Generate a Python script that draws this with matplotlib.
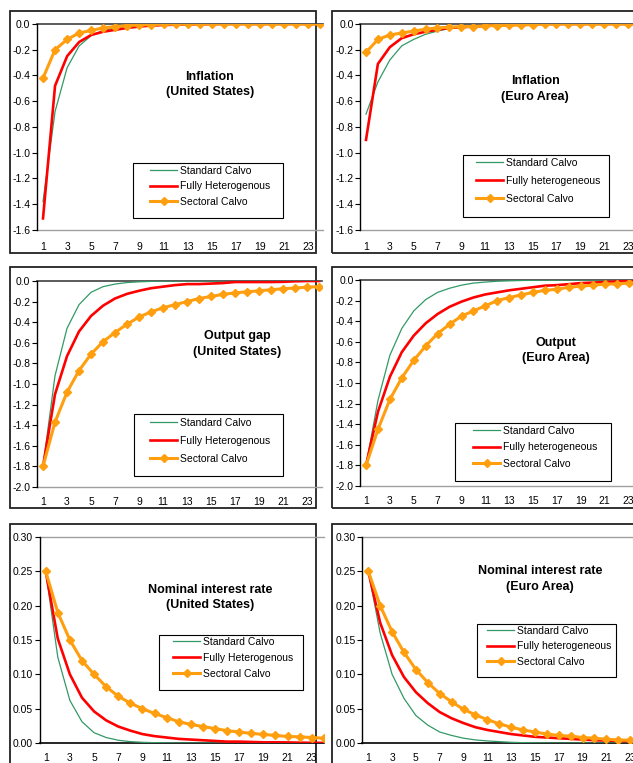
import matplotlib
matplotlib.use("Agg")
import matplotlib.pyplot as plt
from matplotlib.patches import Rectangle
from matplotlib.lines import Line2D
import numpy as np

plt.rcParams['font.family'] = ['Liberation Sans', 'DejaVu Sans']

# ---------------- data ----------------
periods = list(range(1, 25))
x_ticks = list(range(1, 24, 2))

infl_us_std = [-1.38, -0.68, -0.34, -0.17, -0.09, -0.05, -0.03, -0.015, -0.008, -0.004, -0.002, -0.001,
               0, 0, 0, 0, 0, 0, 0, 0, 0, 0, 0, 0]
infl_us_het = [-1.51, -0.48, -0.25, -0.14, -0.085, -0.06, -0.045, -0.03, -0.02, -0.012, -0.008, -0.005,
               -0.003, -0.002, -0.001, 0, 0, 0, 0, 0, 0, 0, 0, 0]
infl_us_sec = [-0.42, -0.20, -0.12, -0.07, -0.05, -0.03, -0.02, -0.012, -0.008, -0.004, -0.002, -0.001,
               0, 0, 0, 0, 0, 0, 0, 0, 0, 0, 0, 0]

infl_ea_std = [-0.70, -0.45, -0.28, -0.17, -0.12, -0.08, -0.055, -0.035, -0.025, -0.015, -0.01, -0.006,
               -0.004, -0.002, -0.001, 0, 0, 0, 0, 0, 0, 0, 0, 0]
infl_ea_het = [-0.90, -0.31, -0.18, -0.11, -0.08, -0.06, -0.045, -0.03, -0.025, -0.02, -0.015, -0.01,
               -0.008, -0.005, -0.003, 0, 0, 0, 0, 0, 0, 0, 0, 0]
infl_ea_sec = [-0.22, -0.12, -0.085, -0.07, -0.055, -0.04, -0.03, -0.025, -0.02, -0.02, -0.015, -0.012,
               -0.01, -0.008, -0.005, -0.002, 0, 0, 0, 0, 0, 0, 0, 0]

out_us_std = [-1.80, -0.92, -0.46, -0.23, -0.11, -0.055, -0.03, -0.015, -0.008, -0.004, -0.002, -0.001,
              0, 0, 0, 0, 0, 0, 0, 0, 0, 0, 0, 0]
out_us_het = [-1.80, -1.10, -0.73, -0.49, -0.34, -0.24, -0.17, -0.125, -0.095, -0.07, -0.055, -0.04,
              -0.03, -0.03, -0.025, -0.02, -0.01, -0.01, -0.01, -0.01, -0.008, -0.003, 0, 0]
out_us_sec = [-1.80, -1.37, -1.08, -0.87, -0.71, -0.59, -0.50, -0.42, -0.35, -0.30, -0.26, -0.23,
              -0.20, -0.17, -0.15, -0.13, -0.115, -0.105, -0.095, -0.085, -0.075, -0.068, -0.06, -0.055]

out_ea_std = [-1.80, -1.17, -0.73, -0.47, -0.30, -0.19, -0.12, -0.08, -0.05, -0.03, -0.02, -0.012,
              -0.008, -0.005, -0.003, -0.002, -0.001, 0, 0, 0, 0, 0, 0, 0]
out_ea_het = [-1.80, -1.28, -0.94, -0.70, -0.54, -0.42, -0.33, -0.26, -0.21, -0.17, -0.14, -0.12,
              -0.10, -0.085, -0.07, -0.055, -0.05, -0.04, -0.03, -0.025, -0.02, -0.015, -0.012, -0.01]
out_ea_sec = [-1.80, -1.45, -1.16, -0.95, -0.78, -0.64, -0.52, -0.43, -0.35, -0.30, -0.25, -0.20,
              -0.17, -0.145, -0.12, -0.10, -0.09, -0.07, -0.06, -0.05, -0.04, -0.037, -0.03, -0.028]

rate_us_std = [0.25, 0.125, 0.062, 0.031, 0.015, 0.008, 0.004, 0.002, 0.001, 0.0005, 0.0002, 0.0001,
               0, 0, 0, 0, 0, 0, 0, 0, 0, 0, 0, 0]
rate_us_het = [0.25, 0.152, 0.10, 0.066, 0.046, 0.033, 0.024, 0.018, 0.013, 0.010, 0.008, 0.006,
               0.005, 0.004, 0.003, 0.002, 0.002, 0.0015, 0.001, 0.001, 0.0008, 0.0005, 0.0003, 0.0002]
rate_us_sec = [0.25, 0.19, 0.15, 0.12, 0.10, 0.082, 0.068, 0.058, 0.050, 0.043, 0.037, 0.031,
               0.027, 0.024, 0.021, 0.018, 0.016, 0.014, 0.0125, 0.011, 0.0095, 0.009, 0.008, 0.007]

rate_ea_std = [0.25, 0.16, 0.10, 0.065, 0.04, 0.026, 0.016, 0.011, 0.007, 0.0045, 0.003, 0.002,
               0.001, 0.0005, 0.0003, 0.0001, 0, 0, 0, 0, 0, 0, 0, 0]
rate_ea_het = [0.25, 0.175, 0.128, 0.096, 0.074, 0.058, 0.045, 0.036, 0.029, 0.023, 0.019, 0.016,
               0.013, 0.011, 0.009, 0.008, 0.007, 0.006, 0.005, 0.004, 0.0035, 0.003, 0.0025, 0.002]
rate_ea_sec = [0.25, 0.20, 0.162, 0.132, 0.107, 0.088, 0.072, 0.060, 0.049, 0.041, 0.034, 0.028,
               0.023, 0.019, 0.016, 0.013, 0.011, 0.010, 0.008, 0.007, 0.0055, 0.0045, 0.004, 0.0035]

yticks_infl = [0.0, -0.2, -0.4, -0.6, -0.8, -1.0, -1.2, -1.4, -1.6]
yticklabels_infl = ['0.0', '-0.2', '-0.4', '-0.6', '-0.8', '-1.0', '-1.2', '-1.4', '-1.6']
yticks_out = [0.0, -0.2, -0.4, -0.6, -0.8, -1.0, -1.2, -1.4, -1.6, -1.8, -2.0]
yticklabels_out = ['0.0', '-0.2', '-0.4', '-0.6', '-0.8', '-1.0', '-1.2', '-1.4', '-1.6', '-1.8', '-2.0']
yticks_rate = [0.00, 0.05, 0.10, 0.15, 0.20, 0.25, 0.30]
yticklabels_rate = ['0.00', '0.05', '0.10', '0.15', '0.20', '0.25', '0.30']

labels_us = ['Standard Calvo', 'Fully Heterogenous', 'Sectoral Calvo']
labels_ea = ['Standard Calvo', 'Fully heterogeneous', 'Sectoral Calvo']

titles = ['Inflation\n(United States)', 'Inflation\n(Euro Area)',
          'Output gap\n(United States)', 'Output\n(Euro Area)',
          'Nominal interest rate\n(United States)', 'Nominal interest rate\n(Euro Area)']

# ---------------- styling ----------------
C_STD = '#339966'
C_HET = '#FF0000'
C_SEC = '#FF9F10'

W, H = 633, 763
fig = plt.figure(figsize=(W / 100, H / 100), dpi=100)
fig.patch.set_facecolor('white')


def fx(p):
    return p / W


def fy(p):
    return 1 - p / H


# chart frames (Excel chart areas)
frames = [(10, 11, 316, 253), (332, 11, 645, 253),
          (10, 267, 316, 508), (332, 267, 645, 508),
          (10, 524, 316, 775), (332, 524, 645, 775)]
for (x0, y0, x1, y1) in frames:
    fig.add_artist(Rectangle((fx(x0), fy(y1)), (x1 - x0) / W, (y1 - y0) / H,
                             transform=fig.transFigure, facecolor='none',
                             edgecolor='#222222', lw=1.3, zorder=-1))

panels = [
    dict(x1=43, unit=12.05, ytop=24, ybot=230, xmax=24.25, ylim=(-1.6, 0.0),
         data=(infl_us_std, infl_us_het, infl_us_sec), yt=yticks_infl, ytl=yticklabels_infl,
         top_axis=True, title=(210, 84.5), box=(133, 163, 283, 218), row0=172, pitch=17.5, hx=150,
         leg=labels_us, xpad=12),
    dict(x1=366, unit=11.9, ytop=24, ybot=230, xmax=24.8, ylim=(-1.6, 0.0),
         data=(infl_ea_std, infl_ea_het, infl_ea_sec), yt=yticks_infl, ytl=yticklabels_infl,
         top_axis=True, title=(535, 89), box=(463, 155, 609, 217), row0=164, pitch=20, hx=476,
         leg=labels_ea, xpad=12),
    dict(x1=43, unit=12.0, ytop=281, ybot=487, xmax=24.25, ylim=(-2.0, 0.0),
         data=(out_us_std, out_us_het, out_us_sec), yt=yticks_out, ytl=yticklabels_out,
         top_axis=True, title=(237, 344), box=(134, 414, 283, 476), row0=424, pitch=20, hx=150,
         leg=labels_us, xpad=10),
    dict(x1=366, unit=11.94, ytop=280, ybot=486, xmax=24.8, ylim=(-2.0, 0.0),
         data=(out_ea_std, out_ea_het, out_ea_sec), yt=yticks_out, ytl=yticklabels_out,
         top_axis=True, title=(556, 350.5), box=(455, 423, 611, 481), row0=432, pitch=18.5, hx=473,
         leg=labels_ea, xpad=10),
    dict(x1=45.7, unit=12.09, ytop=537, ybot=743, xmax=24.0, ylim=(0.0, 0.30),
         data=(rate_us_std, rate_us_het, rate_us_sec), yt=yticks_rate, ytl=yticklabels_rate,
         top_axis=False, title=(210, 597.5), box=(159, 635, 303, 690), row0=643, pitch=18, hx=173,
         leg=labels_us, xpad=10),
    dict(x1=368.3, unit=11.9, ytop=537, ybot=743, xmax=24.8, ylim=(0.0, 0.30),
         data=(rate_ea_std, rate_ea_het, rate_ea_sec), yt=yticks_rate, ytl=yticklabels_rate,
         top_axis=False, title=(540, 579), box=(477, 624, 616, 677), row0=632, pitch=17.5, hx=487,
         leg=labels_ea, xpad=10),
]

FS_TICK = 7.5
FS_LEG = 7.5
FS_TITLE = 9

for i, p in enumerate(panels):
    left = p['x1'] - 0.5 * p['unit']
    right = left + (p['xmax'] - 0.5) * p['unit']
    ax = fig.add_axes([fx(left), fy(p['ybot']), (right - left) / W, (p['ybot'] - p['ytop']) / H])
    ax.set_facecolor('none')
    ax.set_xlim(0.5, p['xmax'])
    ax.set_ylim(*p['ylim'])
    for s in ['top', 'bottom', 'right']:
        ax.spines[s].set_visible(False)
    ax.spines['left'].set_color('black')
    ax.spines['left'].set_linewidth(1.0)

    ylo, yhi = p['ylim']
    if p['top_axis']:
        ax.axhline(yhi, color='#404040', lw=1.2, clip_on=False, zorder=1)
        ax.axhline(ylo, color='#a0a0a0', lw=1.0, clip_on=False, zorder=1)
    else:
        ax.axhline(ylo, color='#000000', lw=1.2, clip_on=False, zorder=1)
        ax.axhline(yhi, color='#a0a0a0', lw=1.0, clip_on=False, zorder=1)

    std, het, sec = p['data']
    l1, = ax.plot(periods, std, color=C_STD, lw=0.9, zorder=2, clip_on=True)
    l2, = ax.plot(periods, het, color=C_HET, lw=1.9, zorder=3, clip_on=True)
    l3, = ax.plot(periods, sec, color=C_SEC, lw=2.2, marker='D', ms=4.2,
                  mfc=C_SEC, mec=C_SEC, zorder=4, clip_on=True)

    ax.set_xticks(x_ticks)
    ax.set_xticklabels([str(t) for t in x_ticks])
    ax.tick_params(axis='x', length=0, pad=p['xpad'] * 0.72, labelsize=FS_TICK)
    ax.set_yticks(p['yt'])
    ax.set_yticklabels(p['ytl'])
    ax.tick_params(axis='y', direction='out', length=3.5, width=0.8, pad=1.2, labelsize=FS_TICK)

    tx, ty = p['title']
    fig.text(fx(tx), fy(ty), titles[i], ha='center', va='center', fontsize=FS_TITLE,
             fontweight='bold', linespacing=1.35)

    bx0, by0, bx1, by1 = p['box']
    ax.add_patch(Rectangle((fx(bx0), fy(by1)), (bx1 - bx0) / W, (by1 - by0) / H,
                           transform=fig.transFigure, facecolor='white', edgecolor='black',
                           lw=0.8, zorder=6, clip_on=False))
    fs_px = FS_LEG / 72 * 100
    text_h = 1.17 * fs_px
    lsp = (p['pitch'] - text_h) / fs_px
    leg = ax.legend([l1, l2, l3], p['leg'], loc='upper left',
                    bbox_to_anchor=(fx(p['hx']), fy(p['row0'] - text_h / 2)),
                    bbox_transform=fig.transFigure, frameon=False, fontsize=FS_LEG,
                    handlelength=2.6, handletextpad=0.3, labelspacing=lsp,
                    borderpad=0, borderaxespad=0, numpoints=1)
    leg.set_zorder(7)

fig.savefig('out.png', dpi=100, facecolor='white')
